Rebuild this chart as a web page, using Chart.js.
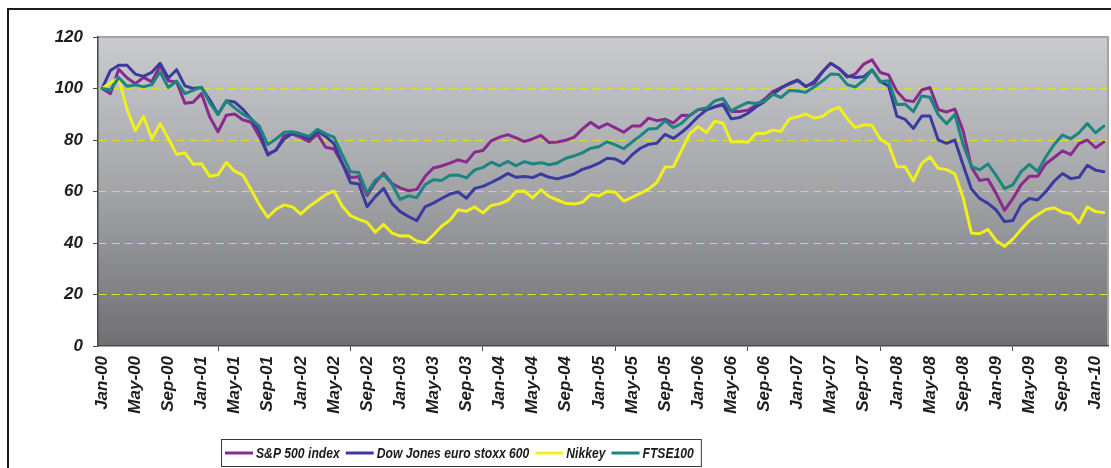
<!DOCTYPE html>
<html><head><meta charset="utf-8">
<script src="https://cdn.jsdelivr.net/npm/chart.js@4.4.1/dist/chart.umd.min.js"></script>
<style>html,body{margin:0;padding:0;background:#fff;}#wrap{width:1111px;height:468px;position:relative;}</style>
</head><body><div id="wrap"><canvas id="c" width="1111" height="468"></canvas></div>
<script>
const months = [
'Jan-00','Feb-00','Mar-00','Apr-00','May-00','Jun-00','Jul-00','Aug-00','Sep-00','Oct-00','Nov-00','Dec-00',
'Jan-01','Feb-01','Mar-01','Apr-01','May-01','Jun-01','Jul-01','Aug-01','Sep-01','Oct-01','Nov-01','Dec-01',
'Jan-02','Feb-02','Mar-02','Apr-02','May-02','Jun-02','Jul-02','Aug-02','Sep-02','Oct-02','Nov-02','Dec-02',
'Jan-03','Feb-03','Mar-03','Apr-03','May-03','Jun-03','Jul-03','Aug-03','Sep-03','Oct-03','Nov-03','Dec-03',
'Jan-04','Feb-04','Mar-04','Apr-04','May-04','Jun-04','Jul-04','Aug-04','Sep-04','Oct-04','Nov-04','Dec-04',
'Jan-05','Feb-05','Mar-05','Apr-05','May-05','Jun-05','Jul-05','Aug-05','Sep-05','Oct-05','Nov-05','Dec-05',
'Jan-06','Feb-06','Mar-06','Apr-06','May-06','Jun-06','Jul-06','Aug-06','Sep-06','Oct-06','Nov-06','Dec-06',
'Jan-07','Feb-07','Mar-07','Apr-07','May-07','Jun-07','Jul-07','Aug-07','Sep-07','Oct-07','Nov-07','Dec-07',
'Jan-08','Feb-08','Mar-08','Apr-08','May-08','Jun-08','Jul-08','Aug-08','Sep-08','Oct-08','Nov-08','Dec-08',
'Jan-09','Feb-09','Mar-09','Apr-09','May-09','Jun-09','Jul-09','Aug-09','Sep-09','Oct-09','Nov-09','Dec-09',
'Jan-10','Feb-10'];

const seriesNames = ['S&P 500 index', 'Dow Jones euro stoxx 600', 'Nikkey', 'FTSE100'];

const sp500 = [
100.0, 98.0, 107.5, 104.2, 101.9, 104.3, 102.6, 108.8, 103.0, 102.5, 94.3, 94.7,
98.0, 88.9, 83.2, 89.6, 90.1, 87.8, 86.9, 81.3, 74.6, 76.0, 81.7, 82.3,
81.0, 79.4, 82.3, 77.2, 76.5, 71.0, 65.4, 65.7, 58.5, 63.5, 67.1, 63.1,
61.4, 60.3, 60.8, 65.8, 69.1, 69.9, 71.0, 72.3, 71.4, 75.3, 75.9, 79.7,
81.1, 82.1, 80.8, 79.4, 80.4, 81.8, 79.0, 79.2, 79.9, 81.0, 84.2, 86.9,
84.7, 86.3, 84.7, 83.0, 85.4, 85.4, 88.5, 87.5, 88.1, 86.6, 89.6, 89.5,
91.8, 91.8, 92.9, 94.0, 91.1, 91.1, 91.6, 93.5, 95.8, 98.8, 100.4, 101.7,
103.1, 100.9, 101.9, 106.3, 109.8, 107.8, 104.4, 105.7, 109.5, 111.1, 106.2, 105.3,
98.9, 95.4, 94.9, 99.4, 100.4, 91.8, 90.9, 92.0, 83.6, 69.5, 64.3, 64.8,
59.2, 52.7, 57.2, 62.6, 65.9, 65.9, 70.8, 73.2, 75.8, 74.3, 78.6, 80.0,
77.0, 79.2];

const stoxx600 = [
100.0, 107.0, 109.0, 109.0, 105.6, 104.7, 106.3, 109.8, 104.1, 107.3, 101.0, 100.0,
100.4, 95.5, 90.0, 95.2, 94.8, 91.9, 88.2, 83.4, 74.2, 76.2, 80.4, 82.7,
82.1, 80.4, 83.4, 81.4, 78.6, 71.0, 63.4, 62.9, 54.1, 58.0, 61.2, 55.4,
52.2, 50.3, 48.7, 54.0, 55.5, 57.3, 59.0, 59.8, 57.4, 61.2, 62.0, 63.5,
65.1, 67.0, 65.5, 65.8, 65.4, 66.8, 65.5, 64.9, 65.8, 66.8, 68.6, 69.6,
71.0, 72.9, 72.6, 70.9, 74.2, 76.8, 78.3, 78.7, 82.2, 80.6, 83.0, 85.8,
89.1, 91.7, 92.9, 93.6, 88.2, 88.7, 90.4, 92.9, 94.9, 97.7, 100.1, 102.0,
103.3, 100.7, 102.7, 106.5, 109.8, 107.8, 104.9, 104.3, 104.6, 107.2, 102.7, 101.0,
89.3, 88.0, 84.5, 89.3, 89.3, 80.0, 78.7, 80.0, 70.3, 61.0, 57.3, 55.4,
52.8, 48.3, 48.7, 54.8, 57.3, 56.7, 60.0, 64.0, 67.0, 65.0, 65.5, 70.2,
68.3, 67.7];

const nikkei = [
100.0, 102.2, 104.1, 92.0, 83.6, 89.1, 80.5, 86.3, 80.6, 74.4, 75.0, 70.6,
70.8, 65.9, 66.5, 71.3, 67.9, 66.4, 60.7, 54.8, 50.0, 53.1, 54.8, 54.0,
51.2, 54.2, 56.4, 58.8, 60.2, 54.4, 50.6, 49.2, 48.0, 44.2, 47.2, 43.9,
42.7, 42.8, 40.8, 40.1, 43.1, 46.5, 48.9, 52.9, 52.3, 54.0, 51.7, 54.6,
55.2, 56.5, 60.0, 60.2, 57.5, 60.7, 58.0, 56.7, 55.4, 55.1, 55.8, 58.8,
58.3, 60.1, 59.7, 56.3, 57.7, 59.3, 60.9, 63.5, 69.5, 69.6, 76.1, 82.5,
85.2, 82.9, 87.3, 86.5, 79.2, 79.4, 79.1, 82.6, 82.5, 83.9, 83.3, 88.2,
89.0, 90.1, 88.5, 89.1, 91.5, 92.8, 88.3, 84.8, 85.9, 85.7, 80.3, 78.3,
69.6, 69.6, 64.1, 70.9, 73.4, 69.0, 68.5, 66.9, 57.6, 43.9, 43.6, 45.3,
40.9, 38.7, 41.5, 45.2, 48.7, 51.0, 53.0, 53.7, 51.9, 51.4, 47.8, 54.0,
52.2, 51.8];

const ftse100 = [
100.0, 99.4, 104.3, 100.9, 101.4, 100.7, 101.5, 106.4, 100.4, 102.9, 98.0, 99.3,
100.5, 94.4, 89.9, 95.2, 92.5, 90.0, 88.2, 85.3, 78.2, 80.4, 83.0, 83.2,
82.4, 81.4, 84.1, 82.4, 81.1, 74.3, 67.7, 67.4, 59.4, 64.4, 66.5, 62.9,
56.9, 58.3, 57.6, 62.6, 64.6, 64.3, 66.3, 66.4, 65.3, 68.4, 69.3, 71.4,
70.0, 71.7, 70.0, 71.6, 70.7, 71.2, 70.4, 71.1, 72.9, 73.8, 75.0, 76.8,
77.4, 79.3, 78.1, 76.6, 79.2, 81.6, 84.3, 84.5, 87.4, 84.8, 86.5, 89.6,
91.9, 92.4, 95.2, 96.1, 91.3, 93.1, 94.6, 94.2, 95.1, 97.8, 96.5, 99.2,
99.0, 98.5, 100.6, 102.9, 105.6, 105.4, 101.5, 100.6, 103.2, 107.2, 102.6, 103.0,
93.8, 93.9, 91.0, 97.1, 96.6, 89.8, 86.3, 89.9, 78.2, 69.8, 68.4, 70.7,
66.2, 61.1, 62.6, 67.7, 70.5, 67.8, 73.5, 78.3, 81.9, 80.5, 82.8, 86.4,
82.8, 85.4];

const yTicks = [0, 20, 40, 60, 80, 100, 120];
const colors = ['#8a2a8e', '#3b3b9f', '#f2ef1f', '#1b867f'];

Chart.defaults.font.family = '"Liberation Sans", Arial, Helvetica, sans-serif';

const bgPlugin = {
  id: 'bg',
  beforeDraw(chart) {
    const {ctx, chartArea: a} = chart;
    ctx.save();
    ctx.fillStyle = '#ffffff';
    ctx.fillRect(0, 0, chart.width, chart.height);
    ctx.strokeStyle = '#1c1c1c';
    ctx.lineWidth = 2;
    ctx.beginPath();
    ctx.moveTo(8, chart.height);
    ctx.lineTo(8, 9);
    ctx.lineTo(chart.width, 9);
    ctx.stroke();
    const g = ctx.createLinearGradient(0, a.top, 0, a.bottom);
    g.addColorStop(0, '#cacbce');
    g.addColorStop(0.5, '#a3a4a8');
    g.addColorStop(1, '#6f6f73');
    ctx.fillStyle = g;
    ctx.fillRect(a.left, a.top, a.right - a.left, a.bottom - a.top);
    ctx.strokeStyle = '#a4a4a6';
    ctx.lineWidth = 2;
    ctx.beginPath();
    ctx.moveTo(a.left, a.top);
    ctx.lineTo(a.right, a.top);
    ctx.lineTo(a.right, a.bottom);
    ctx.stroke();
    ctx.restore();
  }
};

const legendPlugin = {
  id: 'customLegend',
  afterDraw(chart) {
    const ctx = chart.ctx;
    ctx.save();
    ctx.font = 'italic bold 15px "Liberation Sans", Arial, sans-serif';
    const sx = 0.81;
    const top = 439, h = 27, left = 221;
    const items = seriesNames.map((n, i) => ({n, c: colors[i], w: ctx.measureText(n).width * sx}));
    let total = 4;
    items.forEach((it, i) => { total += 28 + 3 + it.w + (i < items.length - 1 ? 6 : 7); });
    ctx.fillStyle = '#fff';
    ctx.fillRect(left, top, total, h);
    ctx.strokeStyle = '#3a3a3a';
    ctx.lineWidth = 1;
    ctx.strokeRect(left + 0.5, top + 0.5, total, h);
    const cy = top + h / 2 + 0.5;
    let x = left + 4;
    items.forEach(it => {
      ctx.strokeStyle = it.c;
      ctx.lineWidth = 3;
      ctx.beginPath();
      ctx.moveTo(x, cy);
      ctx.lineTo(x + 28, cy);
      ctx.stroke();
      x += 31;
      ctx.save();
      ctx.translate(x, cy);
      ctx.scale(sx, 1);
      ctx.fillStyle = '#1a1a1a';
      ctx.textBaseline = 'middle';
      ctx.textAlign = 'left';
      ctx.fillText(it.n, 0, 1);
      ctx.restore();
      x += it.w + 6;
    });
    ctx.restore();
  }
};

const dataSeries = [sp500, stoxx600, nikkei, ftse100];

new Chart(document.getElementById('c'), {
  type: 'line',
  data: {
    labels: months,
    datasets: dataSeries.map((d, i) => ({
      label: seriesNames[i],
      data: d,
      borderColor: colors[i],
      backgroundColor: colors[i],
      borderWidth: 3,
      pointRadius: 0,
      tension: 0,
      fill: false,
      order: 4 - i,
      borderJoinStyle: 'round',
      borderCapStyle: 'round'
    }))
  },
  options: {
    responsive: false,
    animation: false,
    layout: {padding: {top: 37, right: 3, left: 0, bottom: 0}},
    plugins: {legend: {display: false}, tooltip: {enabled: false}},
    scales: {
      x: {
        type: 'category',
        offset: true,
        grid: {
          offset: true,
          drawOnChartArea: false,
          drawTicks: true,
          tickLength: 5,
          lineWidth: 1,
          color: c => (c.index !== undefined && c.index % 4 === 0) ? '#4a4a4a' : 'rgba(0,0,0,0)',
          tickColor: c => (c.index !== undefined && c.index % 4 === 0) ? '#4a4a4a' : 'rgba(0,0,0,0)'
        },
        border: {display: true, color: '#4a4a4a', width: 1.5},
        ticks: {
          autoSkip: false,
          minRotation: 90,
          maxRotation: 90,
          padding: 5,
          color: '#1e1e1e',
          font: {size: 17, style: 'italic', weight: 'bold'},
          callback: function(val, idx) { return idx % 4 === 0 ? this.getLabelForValue(val) : null; }
        },
        afterFit: s => { s.height = 122; s.paddingRight = 0; s.paddingLeft = 0; }
      },
      y: {
        min: 0,
        max: 120,
        afterBuildTicks: s => { s.ticks = yTicks.map(v => ({value: v})); },
        grid: {
          drawTicks: true,
          tickLength: 5,
          lineWidth: 1,
          color: c => (c.tick && c.tick.value > 0 && c.tick.value < 120) ? '#e2df2a' : 'rgba(0,0,0,0)',
          tickColor: '#4a4a4a',
          tickBorderDash: []
        },
        border: {display: true, color: '#4a4a4a', width: 1.5, dash: [8, 5]},
        ticks: {
          padding: 10,
          color: '#1e1e1e',
          font: {size: 17, style: 'italic', weight: 'bold'}
        },
        afterFit: s => { s.width = 98; }
      }
    }
  },
  plugins: [bgPlugin, legendPlugin]
});
</script></body></html>
